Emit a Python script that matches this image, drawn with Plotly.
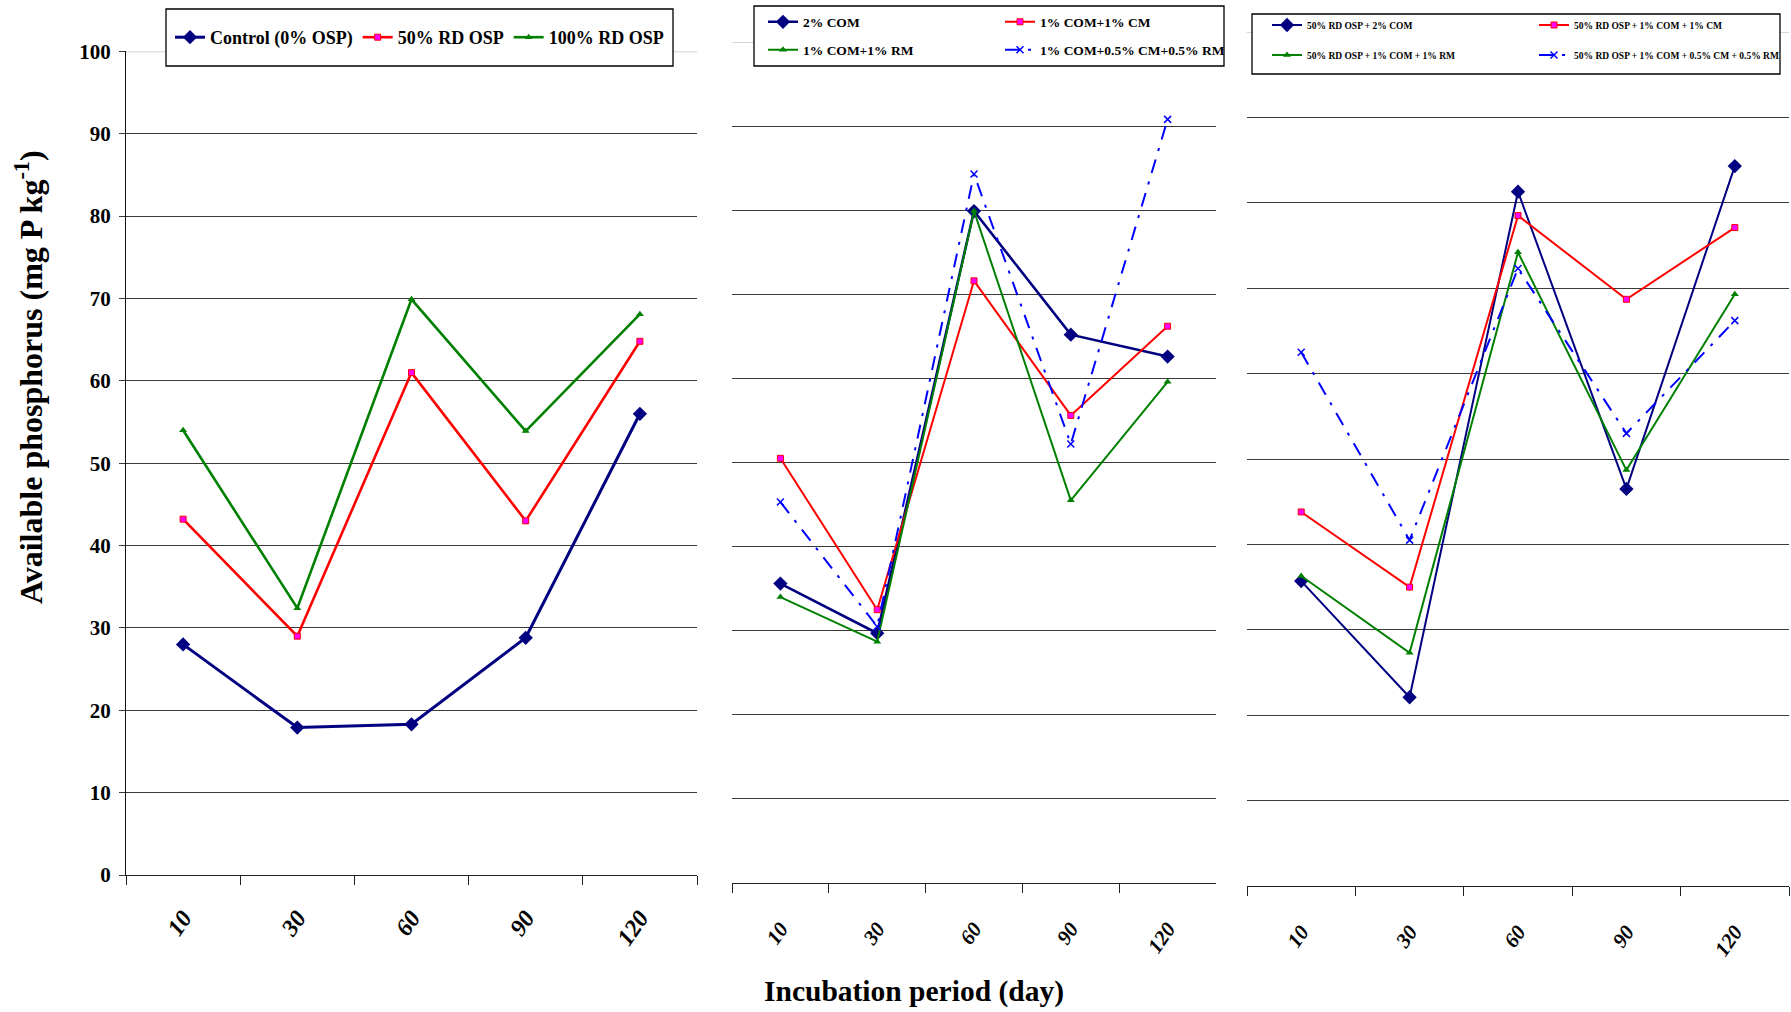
import plotly.graph_objects as go

# ---------------- data ----------------
days = ["10", "30", "60", "90", "120"]
day_labels = ["<i>10</i>", "<i>30</i>", "<i>60</i>", "<i>90</i>", "<i>120</i>"]
y_tick_vals = [0, 10, 20, 30, 40, 50, 60, 70, 80, 90, 100]
y_tick_text = ["0", "10", "20", "30", "40", "50", "60", "70", "80", "90", "100"]

# Panel 1
p1_names = ["Control (0% OSP)", "50% RD OSP", "100% RD OSP"]
control = [28.0, 17.9, 18.3, 28.8, 56.0]
rd50 = [43.2, 29.0, 61.0, 43.0, 64.8]
rd100 = [54.0, 32.4, 69.9, 53.9, 68.1]

# Panel 2
p2_names = ["2% COM", "1% COM+1% CM", "1% COM+1% RM", "1% COM+0.5% CM+0.5% RM"]
com2 = [35.6, 29.7, 79.9, 65.2, 62.6]
com1_cm1 = [50.5, 32.5, 71.6, 55.6, 66.2]
com1_rm1 = [34.0, 28.7, 79.9, 45.5, 59.6]
com1_cm_rm = [45.3, 30.5, 84.3, 52.2, 90.8]

# Panel 3
p3_names = ["50% RD OSP + 2% COM", "50% RD OSP + 1% COM + 1% CM",
            "50% RD OSP + 1% COM + 1% RM", "50% RD OSP + 1% COM + 0.5% CM + 0.5% RM"]
osp_com2 = [35.7, 22.1, 81.3, 46.5, 84.3]
osp_com1_cm1 = [43.8, 35.0, 78.5, 68.7, 77.1]
osp_com1_rm1 = [36.3, 27.3, 74.2, 48.7, 69.3]
osp_com1_cm_rm = [62.5, 40.5, 72.3, 53.0, 66.2]

# ---------------- styles ----------------
FONT = "Liberation Serif"
NAVY, RED, MAGENTA, GREEN, BLUE = "#000080", "#FF0000", "#FF00FF", "#008000", "#0000FF"
GRID = "#3a3a3a"
DASHDOT = "14px,9px,3px,9px"

styles = [
    dict(line=dict(color=NAVY), marker=dict(symbol="diamond", size=11, color=NAVY)),
    dict(line=dict(color=RED), marker=dict(symbol="square", size=6, color=MAGENTA,
                                           line=dict(color=RED, width=1))),
    dict(line=dict(color=GREEN), marker=dict(symbol="triangle-up", size=7, color=GREEN)),
    dict(line=dict(color=BLUE, dash=DASHDOT), marker=dict(symbol="x-thin", size=7,
                                                         line=dict(color=BLUE, width=1.5))),
]

fig = go.Figure()

def add(name, vals, style_idx, xa, ya, legend, width):
    st = styles[style_idx]
    line = dict(st["line"], width=width)
    fig.add_trace(go.Scatter(
        x=days, y=vals, name=name, mode="lines+markers",
        line=line, marker=st["marker"], xaxis=xa, yaxis=ya,
        legend=legend, showlegend=True))

add(p1_names[0], control, 0, "x", "y", "legend", 3)
add(p1_names[1], rd50, 1, "x", "y", "legend", 2.6)
add(p1_names[2], rd100, 2, "x", "y", "legend", 2.6)

add(p2_names[0], com2, 0, "x2", "y2", "legend2", 2.6)
add(p2_names[1], com1_cm1, 1, "x2", "y2", "legend2", 2)
add(p2_names[2], com1_rm1, 2, "x2", "y2", "legend3", 2)
add(p2_names[3], com1_cm_rm, 3, "x2", "y2", "legend3", 2)

add(p3_names[0], osp_com2, 0, "x3", "y3", "legend4", 2)
add(p3_names[1], osp_com1_cm1, 1, "x3", "y3", "legend4", 2)
add(p3_names[2], osp_com1_rm1, 2, "x3", "y3", "legend5", 2)
add(p3_names[3], osp_com1_cm_rm, 3, "x3", "y3", "legend5", 2)

W, H = 1791, 1012
def px(x):
    return x / W
def py(y):
    return 1 - y / H

xdoms = [[px(126), px(697)], [px(732), px(1216)], [px(1247), px(1789)]]
ydoms = [[py(875), py(51.4)], [py(883), py(42)], [py(886), py(32)]]
xfont_sizes = [24, 21, 21]
standoffs = [18, 24, 24]

layout = dict(
    width=W, height=H, margin=dict(l=0, r=0, t=0, b=0, autoexpand=False),
    paper_bgcolor="white", plot_bgcolor="white",
    font=dict(family=FONT, color="black"),
)

for i in range(3):
    sx = "" if i == 0 else str(i + 1)
    layout["xaxis" + sx] = dict(
        domain=xdoms[i], anchor="y" + sx, type="category", automargin=False,
        categoryorder="array", categoryarray=days, range=[-0.5, 4.5],
        tickvals=days, ticktext=day_labels,
        showline=True, linecolor="#222222", linewidth=1.3,
        ticks="outside", tickson="boundaries", ticklen=9, tickcolor="#222222",
        showgrid=False, tickangle=-55, ticklabelstandoff=standoffs[i],
        tickfont=dict(family=FONT, size=xfont_sizes[i], weight="bold", style="italic", color="black"),
    )
    yax = dict(
        domain=ydoms[i], anchor="x" + sx, range=[0, 100], automargin=False,
        tickvals=y_tick_vals, ticktext=y_tick_text,
        showgrid=True, gridcolor=GRID, gridwidth=1, zeroline=False,
    )
    if i == 0:
        yax.update(showline=True, linecolor="#111111", linewidth=1.3,
                   ticks="outside", ticklen=6, tickcolor=GRID,
                   ticklabelstandoff=4,
                   tickfont=dict(family=FONT, size=21, weight="bold", color="black"))
    else:
        yax.update(showticklabels=False, showline=False, ticks="")
    layout["yaxis" + sx] = yax

# legends (one per row)
leg_common = dict(orientation="h", bgcolor="rgba(0,0,0,0)", borderwidth=0,
                  xanchor="left", yanchor="middle", itemclick=False, tracegroupgap=0)
layout["legend"] = dict(leg_common, x=px(170), y=py(37.5),
                        font=dict(family=FONT, size=18, weight="bold", color="black"))
layout["legend2"] = dict(leg_common, x=px(763), y=py(22), entrywidth=192,
                         font=dict(family=FONT, size=13.5, weight="bold", color="black"))
layout["legend3"] = dict(leg_common, x=px(763), y=py(50), entrywidth=192,
                         font=dict(family=FONT, size=13.5, weight="bold", color="black"))
layout["legend4"] = dict(leg_common, x=px(1267), y=py(25), entrywidth=222,
                         font=dict(family=FONT, size=9.5, weight="bold", color="black"))
layout["legend5"] = dict(leg_common, x=px(1267), y=py(55), entrywidth=222,
                         font=dict(family=FONT, size=9.5, weight="bold", color="black"))

# light grey top gridline (100) and legend frames
shapes = []
for i in range(3):
    sx = "" if i == 0 else str(i + 1)
    shapes.append(dict(type="line", xref="x" + sx + " domain", yref="y" + sx,
                       x0=0, x1=1, y0=100, y1=100,
                       line=dict(color="#c8c8c8", width=1.5), layer="above"))
for (x0, y0, x1, y1) in [(166, 9, 673, 66), (754, 6, 1224, 66), (1252, 14, 1780, 74)]:
    shapes.append(dict(type="rect", xref="paper", yref="paper",
                       x0=px(x0), x1=px(x1), y0=py(y1), y1=py(y0),
                       line=dict(color="black", width=1.3), fillcolor="white", layer="above"))
layout["shapes"] = shapes

layout["annotations"] = [
    dict(text="Available phosphorus (mg P kg<sup>-1</sup>)", textangle=-90,
         xref="paper", yref="paper", x=px(29), y=py(377), showarrow=False,
         xanchor="center", yanchor="middle",
         font=dict(family=FONT, size=32, weight="bold", color="black")),
    dict(text="Incubation period (day)", xref="paper", yref="paper",
         x=px(914), y=py(991), showarrow=False, xanchor="center", yanchor="middle",
         font=dict(family=FONT, size=29.5, weight="bold", color="black")),
]

fig.update_layout(**layout)
fig.write_html("out.html", config={"displayModeBar": False},
               post_script="document.body.style.margin='0';document.body.style.overflow='hidden';")
